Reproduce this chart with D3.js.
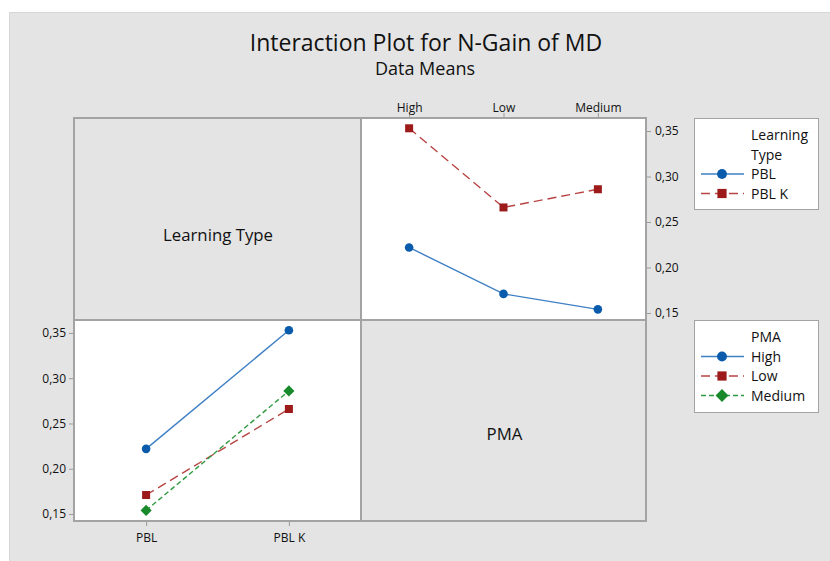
<!DOCTYPE html>
<html>
<head>
<meta charset="utf-8">
<script src="https://cdn.jsdelivr.net/npm/d3@7"></script>
<style>
  body { margin: 0; background: #fff; }
  text { font-family: "Open Sans", "Noto Sans", sans-serif; fill: #111; }
</style>
</head>
<body>
<div class="chart"></div>
<script>
// data means
var learningTypes = ["PBL", "PBL K"];
var pmaLevels = ["High", "Low", "Medium"];
var meansPBL = [0.222, 0.171, 0.154];
var meansPBLK = [0.353, 0.266, 0.286];
var yTicks = [0.15, 0.20, 0.25, 0.30, 0.35];

var svgWidth = 830;
var svgHeight = 561;

var svg = d3.select(".chart")
  .append("svg")
  .attr("width", svgWidth)
  .attr("height", svgHeight);

// grey backdrop
svg.append("rect")
  .attr("x", 9.5).attr("y", 12.5)
  .attr("width", svgWidth - 9).attr("height", svgHeight - 12)
  .attr("fill", "#e4e4e4")
  .attr("stroke", "#d6d6d6");

svg.append("text")
  .attr("x", 426).attr("y", 51)
  .attr("text-anchor", "middle")
  .style("font-size", "23px")
  .text("Interaction Plot for N-Gain of MD");

svg.append("text")
  .attr("x", 425).attr("y", 75)
  .attr("text-anchor", "middle")
  .style("font-size", "18px")
  .text("Data Means");

var comma = d3.formatLocale({decimal: ",", thousands: ".", grouping: [3], currency: ["", ""]}).format(".2f");

// panel geometry
var leftX = 74, midX = 361, rightX = 646;
var topY = 118, midY = 320, bottomY = 521;

var colors = {blue: "#0a5bab", red: "#9c1a1a", green: "#198a2c"};
var lineColors = {blue: "#3f7fc4", red: "#b94444", green: "#2f9a3f"};
var dashes = {blue: null, red: "9,5", green: "5,3"};

// white data panels
svg.append("rect").attr("x", midX).attr("y", topY)
  .attr("width", rightX - midX).attr("height", midY - topY).attr("fill", "#fff");
svg.append("rect").attr("x", leftX).attr("y", midY)
  .attr("width", midX - leftX).attr("height", bottomY - midY).attr("fill", "#fff");

function drawMarker(g, shape, x, y, c, k) {
  k = k || 1;
  if (shape === "circle") {
    g.append("circle").attr("cx", x).attr("cy", y).attr("r", 4.3 * k).attr("fill", c);
  } else if (shape === "square") {
    g.append("rect").attr("x", x - 4 * k).attr("y", y - 4 * k).attr("width", 8 * k).attr("height", 8 * k).attr("fill", c);
  } else {
    g.append("path").attr("d", d3.symbol(d3.symbolSquare, 62 * k * k)()).attr("transform", "translate(" + x + "," + y + ") rotate(45)").attr("fill", c);
  }
}

// ---- top right panel: x = PMA, lines = Learning Type
var xTR = d3.scalePoint().domain(pmaLevels).range([midX, rightX]).padding(0.51);
var yTR = d3.scaleLinear().domain([0.1423, 0.3643]).range([midY, topY]);

var trSeries = [
  {values: meansPBL, key: "blue", shape: "circle"},
  {values: meansPBLK, key: "red", shape: "square"}
];

var line = d3.line();
trSeries.forEach(function (s) {
  var pts = pmaLevels.map(function (p, i) { return [xTR(p), yTR(s.values[i])]; });
  svg.append("path")
    .attr("d", line(pts))
    .attr("fill", "none")
    .attr("stroke", lineColors[s.key])
    .attr("stroke-width", 1.4)
    .attr("stroke-dasharray", dashes[s.key]);
  pts.forEach(function (p) { drawMarker(svg, s.shape, p[0], p[1], colors[s.key]); });
});

var trTop = svg.append("g").attr("transform", "translate(0," + topY + ")")
  .call(d3.axisTop(xTR).tickSize(5).tickSizeOuter(0));
var trRight = svg.append("g").attr("transform", "translate(" + rightX + ",0)")
  .call(d3.axisRight(yTR).tickValues(yTicks).tickFormat(comma).tickSize(5).tickSizeOuter(0));

// ---- bottom left panel: x = Learning Type, lines = PMA
var xBL = d3.scalePoint().domain(learningTypes).range([leftX, midX]).padding(0.505);
var yBL = d3.scaleLinear().domain([0.1423, 0.3643]).range([bottomY, midY]);

var blSeries = [
  {level: "High", key: "blue", shape: "circle"},
  {level: "Low", key: "red", shape: "square"},
  {level: "Medium", key: "green", shape: "diamond"}
];

blSeries.forEach(function (s) {
  var i = pmaLevels.indexOf(s.level);
  var vals = [meansPBL[i], meansPBLK[i]];
  var pts = learningTypes.map(function (t, j) { return [xBL(t), yBL(vals[j])]; });
  svg.append("path")
    .attr("d", line(pts))
    .attr("fill", "none")
    .attr("stroke", lineColors[s.key])
    .attr("stroke-width", 1.4)
    .attr("stroke-dasharray", dashes[s.key]);
  pts.forEach(function (p) { drawMarker(svg, s.shape, p[0], p[1], colors[s.key]); });
});

var blBottom = svg.append("g").attr("transform", "translate(0," + bottomY + ")")
  .call(d3.axisBottom(xBL).tickSize(5).tickSizeOuter(0));
var blLeft = svg.append("g").attr("transform", "translate(" + leftX + ",0)")
  .call(d3.axisLeft(yBL).tickValues(yTicks).tickFormat(comma).tickSize(5).tickSizeOuter(0));

[trTop, trRight, blBottom, blLeft].forEach(function (ax) {
  ax.select(".domain").remove();
  ax.selectAll(".tick line").attr("stroke", "#9a9a9a");
  ax.selectAll(".tick text").attr("fill", "#1a1a1a").style("font-size", "12px")
    .style("font-family", "'Open Sans', sans-serif");
});
trTop.selectAll(".tick text").attr("dy", "0.15em");
trRight.selectAll(".tick text").attr("x", 9);
blLeft.selectAll(".tick text").attr("x", -8);
blBottom.selectAll(".tick text").attr("dy", "1.05em");

// panel frame
var grid = svg.append("g").attr("fill", "none").attr("stroke", "#a3a3a3").attr("stroke-width", 2);
grid.append("rect").attr("x", leftX).attr("y", topY).attr("width", rightX - leftX).attr("height", bottomY - topY);
grid.append("line").attr("x1", midX).attr("x2", midX).attr("y1", topY).attr("y2", bottomY);
grid.append("line").attr("x1", leftX).attr("x2", rightX).attr("y1", midY).attr("y2", midY);

// diagonal labels
svg.append("text").attr("x", 218).attr("y", 241).attr("text-anchor", "middle")
  .style("font-size", "16.8px").text("Learning Type");
svg.append("text").attr("x", 504.5).attr("y", 440).attr("text-anchor", "middle")
  .style("font-size", "16.8px").text("PMA");

// legends
function legend(y0, h, titleLines, items) {
  var g = svg.append("g");
  g.append("rect").attr("x", 694.5).attr("y", y0 + 0.5).attr("width", 124).attr("height", h)
    .attr("fill", "#fff").attr("stroke", "#a3a3a3");
  titleLines.forEach(function (t, i) {
    g.append("text").attr("x", 751).attr("y", y0 + 22 + i * 19.5)
      .style("font-size", "14px").text(t);
  });
  var startY = y0 + 17 + titleLines.length * 19.5;
  items.forEach(function (it, i) {
    var yy = startY + i * 19.5;
    g.append("line").attr("x1", 701).attr("x2", 744).attr("y1", yy).attr("y2", yy)
      .attr("stroke", lineColors[it.key]).attr("stroke-width", 1.4)
      .attr("stroke-dasharray", dashes[it.key]);
    drawMarker(g, it.shape, 722, yy, colors[it.key], 1.15);
    g.append("text").attr("x", 751).attr("y", yy + 5)
      .style("font-size", "14px").text(it.label);
  });
}

legend(118, 91, ["Learning", "Type"], [
  {label: learningTypes[0], key: "blue", shape: "circle"},
  {label: learningTypes[1], key: "red", shape: "square"}
]);
legend(320, 92, ["PMA"], blSeries.map(function (s) {
  return {label: s.level, key: s.key, shape: s.shape};
}));
</script>
</body>
</html>
